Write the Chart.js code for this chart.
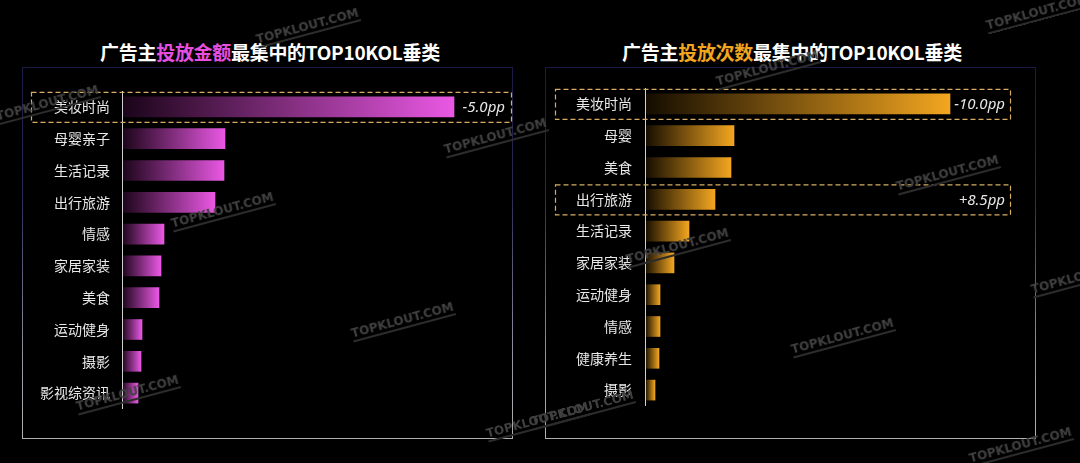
<!DOCTYPE html>
<html>
<head>
<meta charset="utf-8">
<script src="https://cdn.jsdelivr.net/npm/chart.js@4/dist/chart.umd.min.js"></script>
<style>
  html, body { margin: 0; padding: 0; background: #000; }
  body { width: 1080px; height: 463px; position: relative; overflow: hidden; font-family: "Noto Sans CJK SC", sans-serif; }
  .panel { position: absolute; top: 67px; width: 491px; height: 372px; box-sizing: border-box;
           border: 1px solid; border-image: linear-gradient(to bottom, #1b1a44, #2a2a55 35%, #9a9aa8 80%, #b0b0b0) 1; }
  .title { position: absolute; top: 38px; width: 540px; text-align: center; color: #fff;
           font: bold 19px "Noto Sans CJK SC", sans-serif; letter-spacing: -0.3px; }
  .title .pink { color: #e64fe0; }
  .title .gold { color: #f2a51f; }
  canvas { position: absolute; top: 0; }
  .wm { position: absolute; color: #404040; font: bold 12px "DejaVu Sans", sans-serif;
        transform: rotate(-15deg); transform-origin: center; white-space: nowrap;
        border-bottom: 2px solid #2c2c2c; line-height: 12px; padding-bottom: 1px; }
</style>
</head>
<body>
<div class="panel" style="left:22px"></div>
<div class="panel" style="left:545px"></div>
<div class="title" style="left:0">广告主<span class="pink">投放金额</span>最集中的TOP10KOL垂类</div>
<div class="title" style="left:522px">广告主<span class="gold">投放次数</span>最集中的TOP10KOL垂类</div>
<canvas id="amountChart" style="left:0"></canvas>
<canvas id="countChart" style="left:540px"></canvas>

<script>
// Left chart: ad spend
const amountLabels = ['美妆时尚', '母婴亲子', '生活记录', '出行旅游', '情感', '家居家装', '美食', '运动健身', '摄影', '影视综资讯'];
const amountValues = [33.2, 10.3, 10.2, 9.3, 4.2, 3.9, 3.7, 2.0, 1.9, 1.6];
const amountNotes = ['-5.0pp', '', '', '', '', '', '', '', '', ''];

// Right chart: placement count
const countLabels = ['美妆时尚', '母婴', '美食', '出行旅游', '生活记录', '家居家装', '运动健身', '情感', '健康养生', '摄影'];
const countValues = [30.5, 8.9, 8.6, 7.0, 4.4, 2.9, 1.5, 1.5, 1.4, 1.0];
const countNotes = ['-10.0pp', '', '', '+8.5pp', '', '', '', '', '', ''];

// watermark positions (centre x, centre y)
const watermarks = [[40, 105], [300, 28], [488, 138], [215, 212], [120, 395], [395, 322], [530, 422],
                    [760, 70], [940, 175], [670, 248], [835, 338], [575, 410], [1013, 447], [1075, 278], [1030, 14]];

watermarks.forEach(p => {
    const d = document.createElement('div');
    d.className = 'wm';
    d.textContent = 'TOPKLOUT.COM';
    d.style.left = (p[0] - 45) + 'px';
    d.style.top = (p[1] - 8) + 'px';
    document.body.appendChild(d);
});

// axis line on top of bars, dashed highlight boxes + side notes
const notePlugin = {
    id: 'notes',
    afterDatasetsDraw(chart, args, opts) {
        const ctx = chart.ctx;
        const area = chart.chartArea;
        const y = chart.scales.y;
        ctx.save();
        ctx.strokeStyle = '#d0d0d0';
        ctx.lineWidth = 1;
        ctx.beginPath();
        ctx.moveTo(Math.round(area.left) + 0.5, area.top);
        ctx.lineTo(Math.round(area.left) + 0.5, area.bottom);
        ctx.stroke();
        opts.notes.forEach((txt, i) => {
            if (!txt) return;
            const cy = y.getPixelForValue(i);
            ctx.setLineDash([5, 3]);
            ctx.strokeStyle = '#d6ad62';
            ctx.lineWidth = 1.2;
            ctx.strokeRect(area.left - opts.boxLeft + 0.5, cy - 15 + 0.5, opts.boxLeft + area.right - area.left + opts.boxRight, 30);
            ctx.setLineDash([]);
            ctx.fillStyle = '#e6e6e6';
            ctx.font = 'italic 15px "Noto Sans", sans-serif';
            ctx.textAlign = 'right';
            ctx.textBaseline = 'middle';
            ctx.fillText(txt, area.right, cy + 1);
        });
        ctx.restore();
    }
};

function barGradient(start, end) {
    return function(context) {
        const chart = context.chart;
        const area = chart.chartArea;
        if (!area) return end;
        const x1 = chart.scales.x.getPixelForValue(context.raw);
        const g = chart.ctx.createLinearGradient(area.left, 0, Math.max(x1, area.left + 1), 0);
        g.addColorStop(0, start);
        g.addColorStop(1, end);
        return g;
    };
}

function makeChart(id, labels, values, notes, cfg) {
    const el = document.getElementById(id);
    el.width = 540;
    el.height = 463;
    return new Chart(el, {
        type: 'bar',
        data: {
            labels: labels,
            datasets: [{
                data: values,
                backgroundColor: barGradient(cfg.start, cfg.end),
                borderWidth: 0,
                barThickness: 20
            }]
        },
        options: {
            indexAxis: 'y',
            responsive: false,
            animation: false,
            layout: { padding: cfg.padding },
            plugins: {
                legend: { display: false },
                tooltip: { enabled: false },
                notes: { notes: notes, boxLeft: cfg.boxLeft, boxRight: cfg.boxRight }
            },
            scales: {
                x: { display: false, min: 0, max: cfg.max },
                y: {
                    afterFit: (scale) => { scale.width = 100; },
                    grid: { display: false, drawTicks: false },
                    border: { display: false },
                    ticks: {
                        color: '#e8e8e8',
                        padding: cfg.tickPad,
                        font: { size: 14, family: '"Noto Sans CJK SC", sans-serif' }
                    }
                }
            }
        },
        plugins: [notePlugin]
    });
}

makeChart('amountChart', amountLabels, amountValues, amountNotes, {
    start: '#1a0418', end: '#ea58e4', max: 38.3,
    padding: { left: 22, right: 35, top: 91, bottom: 54 },
    tickPad: 12, boxLeft: 91, boxRight: 6
});

makeChart('countChart', countLabels, countValues, countNotes, {
    start: '#140c00', end: '#f3a620', max: 36.0,
    padding: { left: 5, right: 75, top: 88, bottom: 57 },
    tickPad: 13, boxLeft: 90, boxRight: 5
});
</script>
</body>
</html>
